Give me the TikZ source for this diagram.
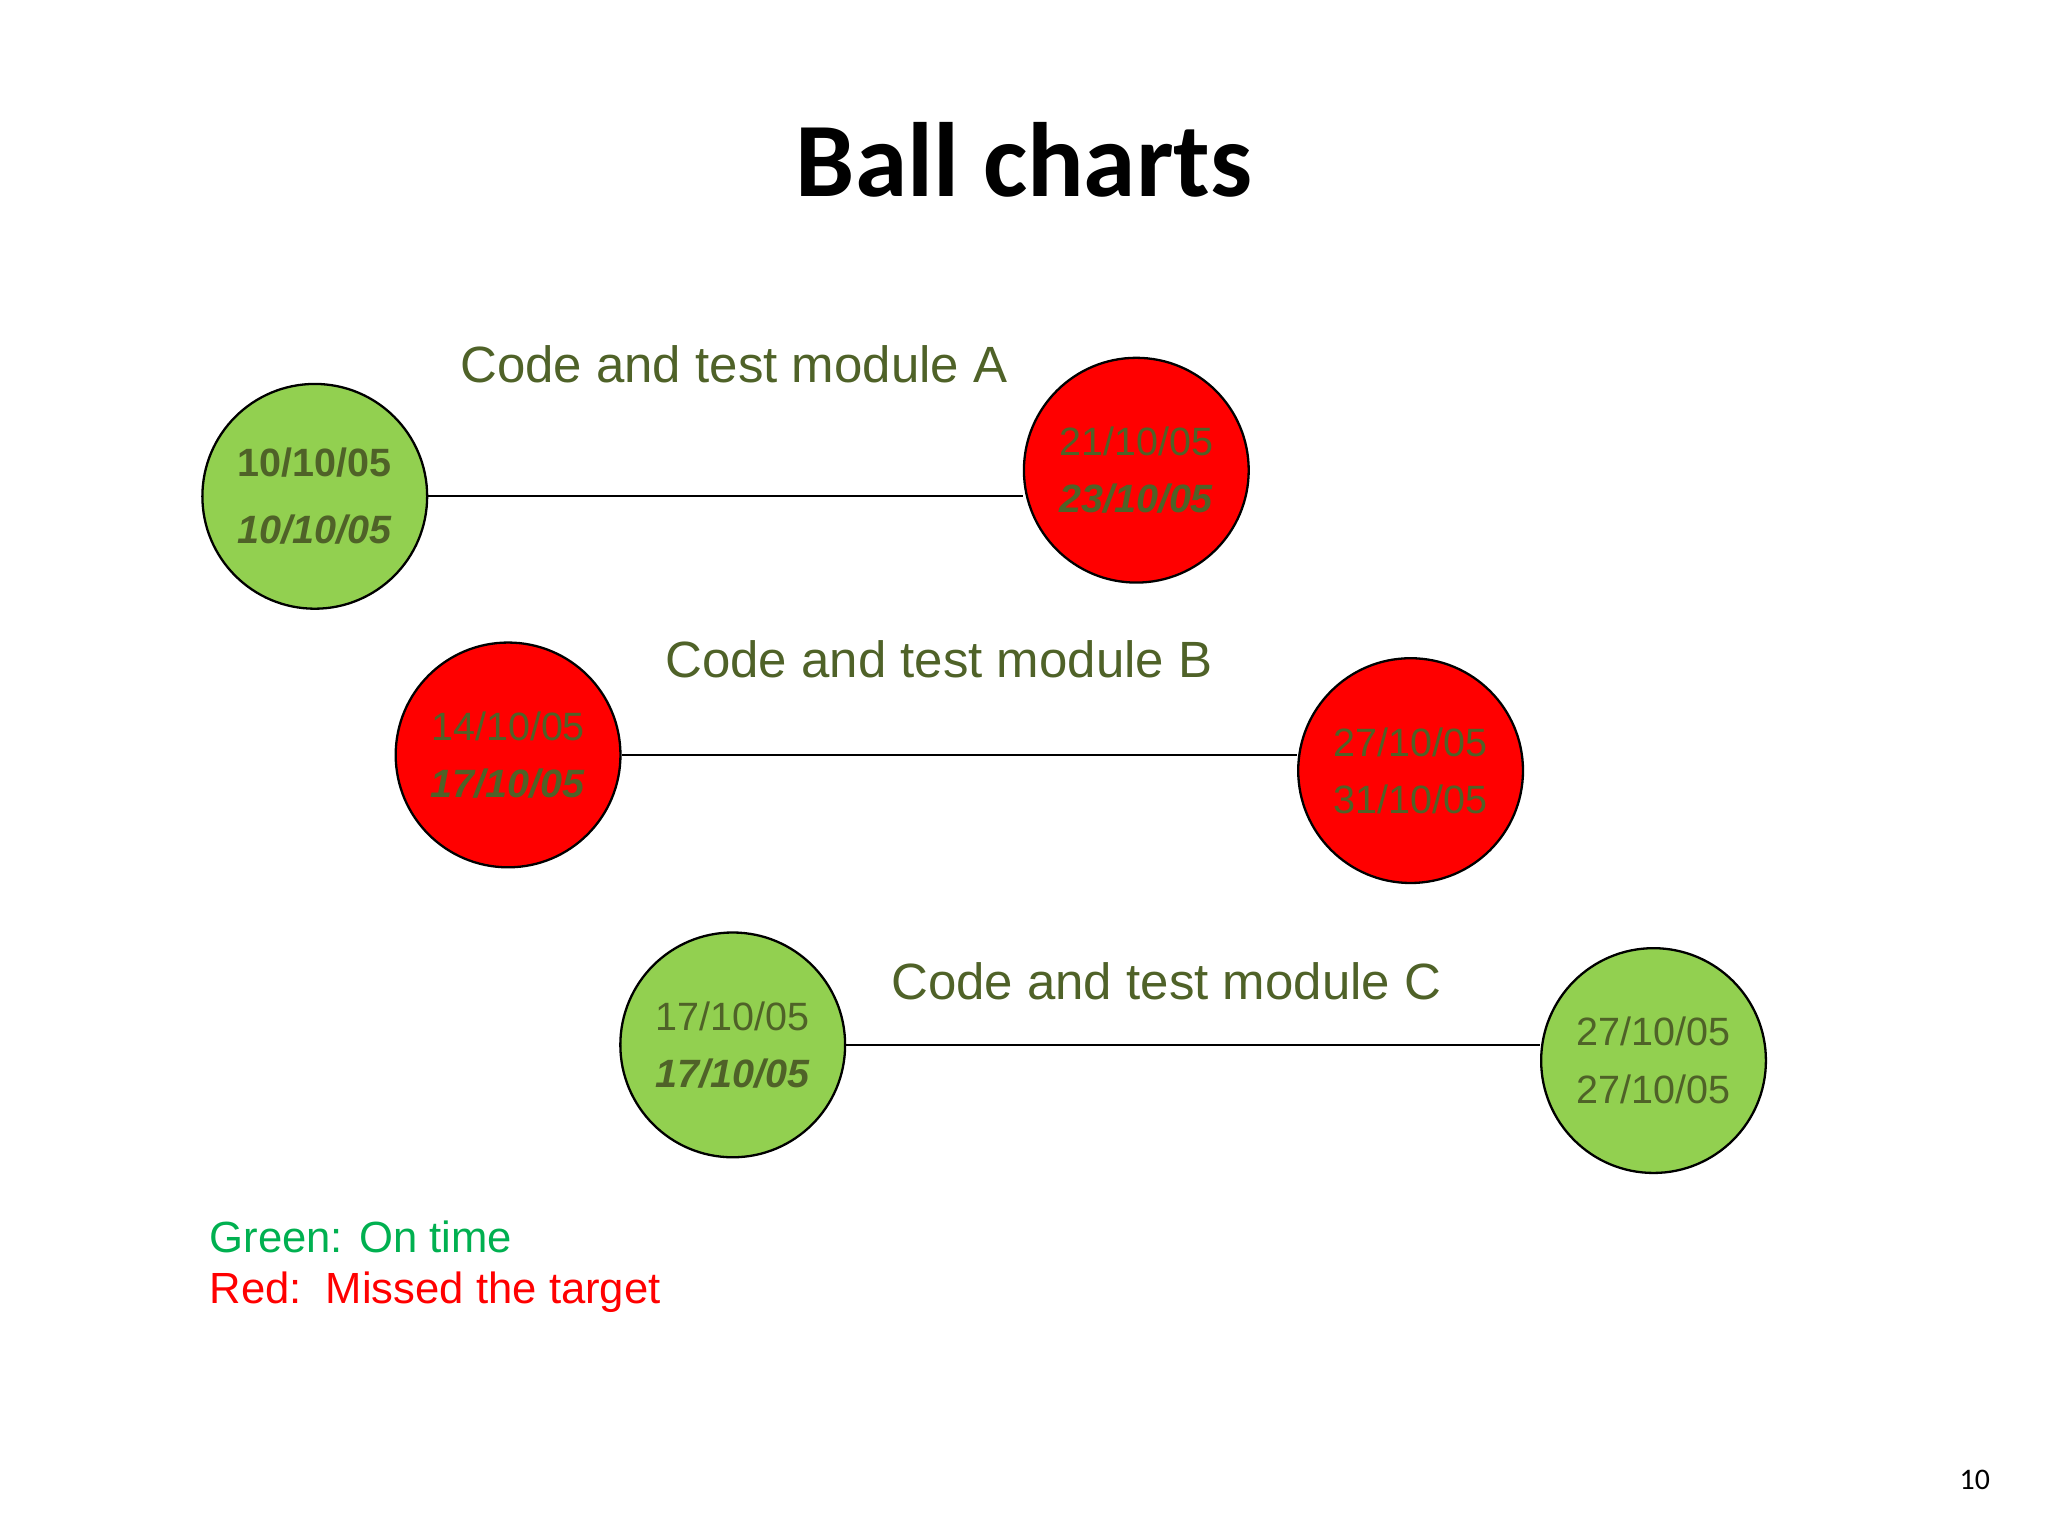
\documentclass[tikz,border=0pt]{standalone}
\usepackage{fontspec}
\setmainfont{Liberation Sans}
\newfontfamily\titlefont{Carlito}
\definecolor{olive}{HTML}{4F6228}
\definecolor{ballgreen}{HTML}{92D050}
\definecolor{legendgreen}{HTML}{00B050}
\begin{document}
\begin{tikzpicture}[x=0.01cm,y=-0.01cm,
  ball/.style={circle,draw=black,line width=0.5pt,minimum size=1.72cm,inner sep=0pt,align=center,font=\fontsize{8.6}{12.5}\selectfont,text=olive},
  gball/.style={ball,fill=ballgreen},
  rball/.style={ball,fill=red},
  lbl/.style={font=\fontsize{11.1}{13}\selectfont,text=olive,anchor=west},
  conn/.style={line width=0.5pt}]
\useasboundingbox (0,0) rectangle (1568,1176);
\node[font=\titlefont\fontsize{23}{26}\selectfont\bfseries] (title) at (784,122) {Ball charts};
\node[gball] (a1) at (241,380) {\textbf{10/10/05}\\[2pt]\textbf{\textit{10/10/05}}};
\node[rball] (a2) at (870,360) {21/10/05\\\textbf{\textit{23/10/05}}};
\draw[conn] (a1.east) -- (a1.east -| a2.west);
\node[lbl] (la) at (340,279) {Code and test module A};
\node[rball] (b1) at (389,578) {14/10/05\\\textbf{\textit{17/10/05}}};
\node[rball] (b2) at (1080,590) {27/10/05\\31/10/05};
\draw[conn] (b1.east) -- (b1.east -| b2.west);
\node[lbl] (lb) at (497,505) {Code and test module B};
\node[gball] (c1) at (561,800) {17/10/05\\\textbf{\textit{17/10/05}}};
\node[gball] (c2) at (1266,812) {27/10/05\\27/10/05};
\draw[conn] (c1.east) -- (c1.east -| c2.west);
\node[lbl] (lc) at (670,751) {Code and test module C};
\node[anchor=west,font=\fontsize{9.5}{12}\selectfont,text=legendgreen] (lg) at (148,947) {Green: On time};
\node[anchor=west,font=\fontsize{9.5}{12}\selectfont,text=red] (lr) at (148,989) {Red:\ \ Missed the target};
\node[font=\titlefont\fontsize{6.5}{8}\selectfont] (pg) at (1512,1133) {10};
\end{tikzpicture}
\end{document}
